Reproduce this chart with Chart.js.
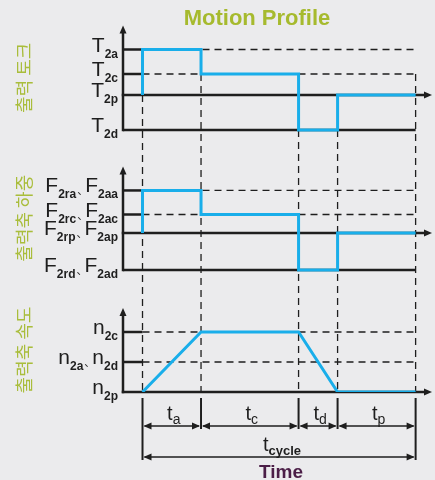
<!DOCTYPE html>
<html>
<head>
<meta charset="utf-8">
<script src="https://cdn.jsdelivr.net/npm/chart.js@4.4.1/dist/chart.umd.min.js"></script>
<style>
  html, body { margin: 0; padding: 0; background: #ebebed; }
  canvas { display: block; }
</style>
</head>
<body>
<canvas id="profile" width="435" height="480"></canvas>
<script>
// -------------------
// DATA

const phaseLabels = [["t", "a"], ["t", "c"], ["t", "d"], ["t", "p"]];
const phaseDurations = [1.5, 2.5, 1, 2];
const cycleLabel = ["t", "cycle"];

// level held during ta, tc, td, tp
const torqueLevels = [1.3, 0.6, -1.0, 0];
const forceLevels = [1.15, 0.5, -1.0, 0];
// speed at the phase boundaries
const speedAtBreaks = [0, 1, 1, 0, 0];

const torqueTicks = [1.3, 0.6, 0, -1.0];
const torqueTickLabels = [[["T", "2a"]], [["T", "2c"]], [["T", "2p"]], [["T", "2d"]]];
const forceTicks = [1.15, 0.5, 0, -1.0];
const forceTickLabels = [
  [["F", "2ra"], ["F", "2aa"]],
  [["F", "2rc"], ["F", "2ac"]],
  [["F", "2rp"], ["F", "2ap"]],
  [["F", "2rd"], ["F", "2ad"]],
];
const speedTicks = [1, 0.5, 0];
const speedTickLabels = [[["n", "2c"]], [["n", "2a"], ["n", "2d"]], [["n", "2p"]]];

const panelTitles = ["출력 토크", "출력축 하중", "출력축 속도"];
const chartTitle = "Motion Profile";
const timeTitle = "Time";

// -------------------
// HELPERS

const breaks = [0];
phaseDurations.forEach(d => breaks.push(breaks[breaks.length - 1] + d));

const stepPoints = levels => {
  const pts = [{ x: breaks[0], y: 0 }];
  levels.forEach((v, i) => pts.push({ x: breaks[i], y: v }));
  pts.push({ x: breaks[breaks.length - 1], y: levels[levels.length - 1] });
  return pts;
};

const AREA_TOP = 28;
const AREA_BOTTOM = 392;
// place a panel's zero line at zeroPx with unitPx pixels per unit
const band = (zeroPx, unitPx) => ({
  min: -(AREA_BOTTOM - zeroPx) / unitPx,
  max: (zeroPx - AREA_TOP) / unitPx,
});

const BLUE = "#19aeea";
const INK = "#1e1e1e";
const SANS = '"Liberation Sans", Arial, sans-serif';

const panels = [
  { axis: "yT", ticks: torqueTicks, labels: torqueTickLabels, title: panelTitles[0] },
  { axis: "yF", ticks: forceTicks, labels: forceTickLabels, title: panelTitles[1] },
  { axis: "yN", ticks: speedTicks, labels: speedTickLabels, title: panelTitles[2] },
];

function arrowHead(ctx, x, y, dir) {
  const len = 8, half = 3.5;
  ctx.beginPath();
  if (dir === "up") {
    ctx.moveTo(x, y); ctx.lineTo(x - half, y + len); ctx.lineTo(x + half, y + len);
  } else if (dir === "right") {
    ctx.moveTo(x, y); ctx.lineTo(x - len, y - half); ctx.lineTo(x - len, y + half);
  } else {
    ctx.moveTo(x, y); ctx.lineTo(x + len, y - half); ctx.lineTo(x + len, y + half);
  }
  ctx.closePath();
  ctx.fill();
}

function line(ctx, x1, y1, x2, y2, width, dash) {
  ctx.save();
  ctx.lineWidth = width;
  ctx.setLineDash(dash || []);
  ctx.beginPath();
  ctx.moveTo(x1, y1);
  ctx.lineTo(x2, y2);
  ctx.stroke();
  ctx.restore();
}

// main letter + subscript, several joined by "、"
function levelLabel(ctx, parts, rightX, y) {
  const mainFont = "21px " + SANS;
  const subFont = "bold 12px " + SANS;
  const sepW = 9;
  const widths = parts.map(([m, s]) => {
    ctx.font = mainFont; const mw = ctx.measureText(m).width;
    ctx.font = subFont; const sw = ctx.measureText(s).width;
    return [mw, sw];
  });
  let total = widths.reduce((a, [mw, sw]) => a + mw + sw, 0) + sepW * (parts.length - 1);
  let cx = rightX - total;
  ctx.textAlign = "left";
  ctx.textBaseline = "alphabetic";
  parts.forEach(([m, s], i) => {
    ctx.font = mainFont;
    ctx.fillText(m, cx, y + 2);
    cx += widths[i][0];
    ctx.font = subFont;
    ctx.fillText(s, cx, y + 8);
    cx += widths[i][1];
    if (i < parts.length - 1) {
      ctx.font = '11px "Noto Sans CJK KR", sans-serif';
      ctx.fillText("、", cx + 1, y + 4);
      cx += sepW;
    }
  });
}

function timeLabel(ctx, [m, s], centerX, y, subFont) {
  const mainFont = "20px " + SANS;
  ctx.font = mainFont; const mw = ctx.measureText(m).width;
  ctx.font = subFont; const sw = ctx.measureText(s).width;
  const left = centerX - (mw + sw) / 2;
  ctx.textAlign = "left";
  ctx.font = mainFont;
  ctx.fillText(m, left, y);
  ctx.font = subFont;
  ctx.fillText(s, left + mw, y + 4);
}

function doubleArrow(ctx, x1, x2, y) {
  line(ctx, x1 + 2, y, x2 - 2, y, 1.5);
  arrowHead(ctx, x1 + 1, y, "left");
  arrowHead(ctx, x2 - 1, y, "right");
}

// -------------------
// PLUGIN: axes, guide lines and labels

const profileDrawing = {
  id: "profileDrawing",
  beforeDatasetsDraw(chart) {
    const { ctx, chartArea, scales } = chart;
    const x = scales.x;
    const left = chartArea.left;
    const xStart = x.getPixelForValue(breaks[0]);
    const xEnd = x.getPixelForValue(breaks[breaks.length - 1]);
    ctx.save();
    ctx.strokeStyle = INK;
    ctx.fillStyle = INK;

    // vertical guides through all panels
    const yT = scales.yT;
    const yN = scales.yN;
    const zeroN = yN.getPixelForValue(0);
    breaks.forEach((t, i) => {
      const px = x.getPixelForValue(t);
      let startVal;
      if (i === 0) startVal = Math.min(0, torqueLevels[0]);
      else if (i < torqueLevels.length) startVal = Math.min(torqueLevels[i - 1], torqueLevels[i]);
      else startVal = torqueTicks[1];
      line(ctx, px, yT.getPixelForValue(startVal), px, zeroN, 1.3, [7, 5]);
      const bottom = i === 0 || i === breaks.length - 1 ? 460 : 429;
      line(ctx, px, zeroN + 6, px, bottom, 2);
    });

    panels.forEach(p => {
      const y = scales[p.axis];
      const minTick = Math.min(...p.ticks);
      p.ticks.forEach(v => {
        const py = y.getPixelForValue(v);
        if (v === 0) return;
        if (v === minTick && v < 0) {
          line(ctx, left, py, xEnd, py, 2.5);
        } else {
          line(ctx, left, py, xStart, py, 2.5);
          line(ctx, xStart, py, xEnd, py, 1.3, [7, 5]);
        }
      });
      // axes with arrows
      const topTick = y.getPixelForValue(Math.max(...p.ticks));
      const tipY = topTick - 24;
      const bottomY = y.getPixelForValue(minTick);
      line(ctx, left, tipY + 6, left, bottomY + 1.25, 2.5);
      arrowHead(ctx, left, tipY, "up");
      const zy = y.getPixelForValue(0);
      line(ctx, left - 1.25, zy, chartArea.right - 6, zy, 2.5);
      arrowHead(ctx, chartArea.right, zy, "right");
    });

    // time spans
    for (let i = 0; i < phaseLabels.length; i++) {
      doubleArrow(ctx, x.getPixelForValue(breaks[i]), x.getPixelForValue(breaks[i + 1]), 426);
    }
    doubleArrow(ctx, xStart, xEnd, 457);
    ctx.restore();
  },
  afterDatasetsDraw(chart) {
    const { ctx, chartArea, scales } = chart;
    const x = scales.x;
    ctx.save();
    ctx.fillStyle = INK;

    panels.forEach(p => {
      const y = scales[p.axis];
      p.ticks.forEach((v, i) => {
        levelLabel(ctx, p.labels[i], chartArea.left - 5, y.getPixelForValue(v));
      });
      const topY = y.getPixelForValue(Math.max(...p.ticks)) - 24;
      const botY = y.getPixelForValue(Math.min(...p.ticks));
      ctx.save();
      ctx.translate(24, (topY + botY) / 2);
      ctx.rotate(-Math.PI / 2);
      ctx.textAlign = "center";
      ctx.textBaseline = "middle";
      ctx.font = '18px "Noto Sans CJK KR", sans-serif';
      ctx.fillStyle = "#a9bd3b";
      ctx.fillText(p.title, 0, 0);
      ctx.restore();
    });

    ctx.fillStyle = INK;
    phaseLabels.forEach((lbl, i) => {
      const cx = (x.getPixelForValue(breaks[i]) + x.getPixelForValue(breaks[i + 1])) / 2;
      timeLabel(ctx, lbl, cx + 2, 420, "14px " + SANS);
    });
    const mid = (x.getPixelForValue(breaks[0]) + x.getPixelForValue(breaks[breaks.length - 1])) / 2;
    timeLabel(ctx, cycleLabel, mid + 3, 451, "bold 13px " + SANS);

    ctx.textAlign = "center";
    ctx.font = "bold 19px " + SANS;
    ctx.fillStyle = "#4b1e47";
    ctx.fillText(timeTitle, mid + 2, 478);

    ctx.font = "bold 22px " + SANS;
    ctx.fillStyle = "#a6ba2e";
    ctx.fillText(chartTitle, 257, 25);
    ctx.restore();
  },
};

// -------------------
// CHART

const lineStyle = {
  borderColor: BLUE,
  borderWidth: 3,
  pointRadius: 0,
  borderJoinStyle: "miter",
  fill: false,
};

const profileChart = new Chart(document.getElementById("profile"), {
  type: "line",
  data: {
    datasets: [
      { ...lineStyle, label: "torque", data: stepPoints(torqueLevels), stepped: true, yAxisID: "yT" },
      { ...lineStyle, label: "load", data: stepPoints(forceLevels), stepped: true, yAxisID: "yF" },
      {
        ...lineStyle,
        label: "speed",
        data: breaks.map((t, i) => ({ x: t, y: speedAtBreaks[i] })),
        yAxisID: "yN",
      },
    ],
  },
  options: {
    responsive: false,
    animation: false,
    layout: { padding: { left: 123, top: AREA_TOP, right: 3, bottom: 480 - AREA_BOTTOM } },
    plugins: { legend: { display: false }, tooltip: { enabled: false } },
    scales: {
      x: { type: "linear", min: -0.5, max: 7.42, display: false },
      yT: { type: "linear", position: "left", display: false, ...band(95, 35) },
      yF: { type: "linear", position: "left", display: false, ...band(233, 37) },
      yN: { type: "linear", position: "left", display: false, ...band(392, 60) },
    },
  },
  plugins: [profileDrawing],
});
</script>
</body>
</html>
